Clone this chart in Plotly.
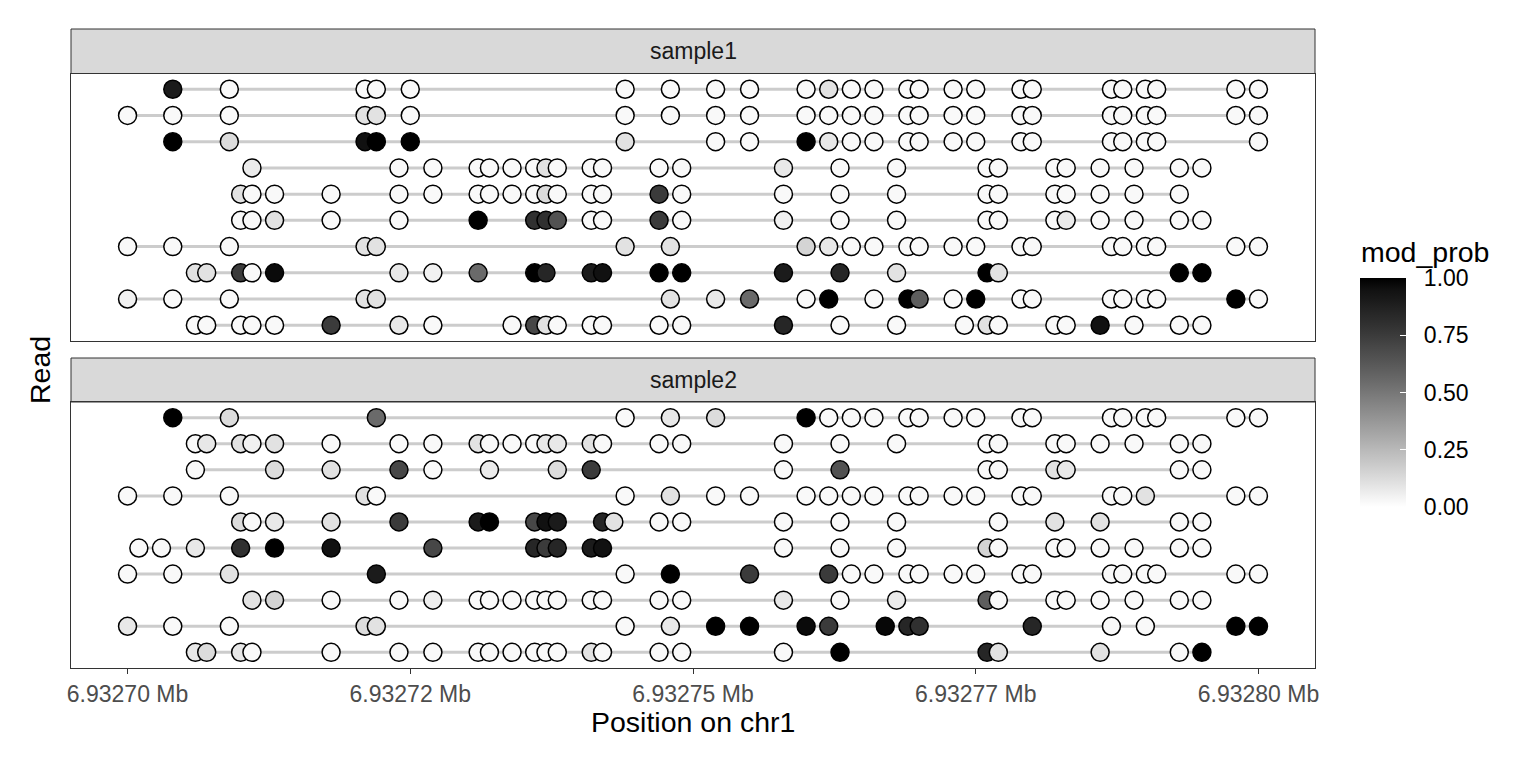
import numpy as np
import plotly.graph_objects as go

# ---------------- data ----------------
START = 6932700
TICK_OFFSETS = [0, 25, 50, 75, 100]
TICK_LABELS = ["6.93270 Mb", "6.93272 Mb", "6.93275 Mb", "6.93277 Mb", "6.93280 Mb"]
SAMPLES = ["sample1", "sample2"]
CBAR_TICKS = [0, 0.25, 0.5, 0.75, 1.0]
CBAR_LABELS = ["0.00", "0.25", "0.50", "0.75", "1.00"]

# sample1: CpG offsets (bp from START) per read, top to bottom
s1_pos = [
    [4, 9, 21, 22, 25, 44, 48, 52, 55, 60, 62, 64, 66, 69, 70, 73, 75, 79, 80, 87, 88, 90, 91, 98, 100],
    [0, 4, 9, 21, 22, 25, 44, 48, 52, 55, 60, 62, 64, 66, 69, 70, 73, 75, 79, 80, 87, 88, 90, 91, 98, 100],
    [4, 9, 21, 22, 25, 44, 52, 55, 60, 62, 64, 66, 69, 70, 73, 75, 79, 80, 87, 88, 90, 91, 100],
    [11, 24, 27, 31, 32, 34, 36, 37, 38, 41, 42, 47, 49, 58, 63, 68, 76, 77, 82, 83, 86, 89, 93, 95],
    [10, 11, 13, 18, 24, 27, 31, 32, 34, 36, 37, 38, 41, 42, 47, 49, 58, 63, 68, 76, 77, 82, 83, 86, 89, 93],
    [10, 11, 13, 18, 24, 31, 36, 37, 38, 41, 42, 47, 49, 58, 63, 68, 76, 77, 82, 83, 86, 89, 93, 95],
    [0, 4, 9, 21, 22, 44, 48, 60, 62, 64, 66, 69, 70, 73, 75, 79, 80, 87, 88, 90, 91, 98, 100],
    [6, 7, 10, 11, 13, 24, 27, 31, 36, 37, 41, 42, 47, 49, 58, 63, 68, 76, 77, 93, 95],
    [0, 4, 9, 21, 22, 48, 52, 55, 60, 62, 66, 69, 70, 73, 75, 79, 80, 87, 88, 90, 91, 98, 100],
    [6, 7, 10, 11, 13, 18, 24, 27, 34, 36, 37, 38, 41, 42, 47, 49, 58, 63, 68, 74, 76, 77, 82, 83, 86, 89, 93, 95],
]
s1_prob = [
    [0.9, 0.02, 0.02, 0.02, 0.02, 0.02, 0.02, 0.02, 0.02, 0.02, 0.1, 0.02, 0.02, 0.02, 0.02, 0.02, 0.02, 0.02, 0.02, 0.02, 0.02, 0.02, 0.02, 0.02, 0.02],
    [0.02, 0.02, 0.02, 0.1, 0.1, 0.02, 0.02, 0.02, 0.02, 0.02, 0.02, 0.02, 0.02, 0.02, 0.02, 0.02, 0.02, 0.02, 0.02, 0.02, 0.02, 0.02, 0.02, 0.02, 0.02, 0.02],
    [1.0, 0.12, 0.95, 1.0, 1.0, 0.1, 0.02, 0.02, 1.0, 0.08, 0.02, 0.02, 0.02, 0.02, 0.02, 0.02, 0.02, 0.02, 0.02, 0.02, 0.02, 0.02, 0.02],
    [0.07, 0.02, 0.02, 0.02, 0.02, 0.02, 0.02, 0.1, 0.02, 0.02, 0.02, 0.02, 0.02, 0.08, 0.02, 0.02, 0.02, 0.02, 0.02, 0.02, 0.02, 0.02, 0.02, 0.02],
    [0.1, 0.02, 0.02, 0.02, 0.02, 0.02, 0.02, 0.02, 0.02, 0.02, 0.12, 0.02, 0.02, 0.02, 0.75, 0.02, 0.02, 0.02, 0.02, 0.02, 0.02, 0.02, 0.02, 0.02, 0.02, 0.02],
    [0.02, 0.02, 0.1, 0.02, 0.02, 1.0, 0.8, 0.8, 0.65, 0.02, 0.02, 0.75, 0.02, 0.05, 0.02, 0.02, 0.02, 0.02, 0.02, 0.07, 0.02, 0.02, 0.02, 0.02],
    [0.02, 0.02, 0.02, 0.1, 0.1, 0.1, 0.1, 0.15, 0.08, 0.02, 0.02, 0.02, 0.02, 0.02, 0.02, 0.02, 0.02, 0.02, 0.02, 0.02, 0.02, 0.02, 0.02],
    [0.1, 0.1, 0.75, 0.02, 0.97, 0.08, 0.05, 0.55, 1.0, 0.85, 0.9, 0.95, 1.0, 1.0, 0.9, 0.85, 0.1, 1.0, 0.1, 1.0, 1.0],
    [0.05, 0.02, 0.02, 0.1, 0.1, 0.1, 0.08, 0.55, 0.02, 1.0, 0.02, 1.0, 0.6, 0.02, 1.0, 0.02, 0.02, 0.02, 0.02, 0.02, 0.02, 1.0, 0.02],
    [0.02, 0.02, 0.02, 0.02, 0.02, 0.75, 0.08, 0.02, 0.02, 0.7, 0.1, 0.02, 0.02, 0.02, 0.02, 0.02, 0.85, 0.02, 0.02, 0.02, 0.1, 0.02, 0.02, 0.02, 0.95, 0.02, 0.02, 0.02],
]

# sample2
s2_pos = [
    [4, 9, 22, 44, 48, 52, 60, 62, 64, 66, 69, 70, 73, 75, 79, 80, 87, 88, 90, 91, 98, 100],
    [6, 7, 10, 11, 13, 18, 24, 27, 31, 32, 34, 36, 37, 38, 41, 42, 47, 49, 58, 63, 68, 76, 77, 82, 83, 86, 89, 93, 95],
    [6, 13, 18, 24, 27, 32, 38, 41, 58, 63, 76, 77, 82, 83, 93, 95],
    [0, 4, 9, 21, 22, 44, 48, 52, 55, 60, 62, 64, 66, 69, 70, 73, 75, 79, 80, 87, 88, 90, 98, 100],
    [10, 11, 13, 18, 24, 31, 32, 36, 37, 38, 42, 43, 47, 49, 58, 63, 68, 77, 82, 86, 93, 95],
    [1, 3, 6, 10, 13, 18, 27, 36, 37, 38, 41, 42, 58, 63, 68, 76, 77, 82, 83, 86, 89, 93, 95],
    [0, 4, 9, 22, 44, 48, 55, 62, 64, 66, 69, 70, 73, 75, 79, 80, 87, 88, 90, 91, 98, 100],
    [11, 13, 18, 24, 27, 31, 32, 34, 36, 37, 38, 41, 42, 47, 49, 58, 63, 68, 76, 77, 82, 83, 86, 89, 93, 95],
    [0, 4, 9, 21, 22, 44, 48, 52, 55, 60, 62, 67, 69, 70, 80, 87, 90, 98, 100],
    [6, 7, 10, 11, 18, 24, 27, 31, 32, 34, 36, 37, 38, 41, 42, 47, 49, 58, 63, 76, 77, 86, 93, 95],
]
s2_prob = [
    [1.0, 0.12, 0.55, 0.02, 0.08, 0.12, 1.0, 0.02, 0.02, 0.02, 0.02, 0.02, 0.02, 0.02, 0.02, 0.02, 0.02, 0.02, 0.02, 0.02, 0.02, 0.02],
    [0.02, 0.08, 0.1, 0.05, 0.1, 0.02, 0.02, 0.02, 0.1, 0.02, 0.02, 0.02, 0.08, 0.08, 0.1, 0.02, 0.02, 0.02, 0.02, 0.02, 0.02, 0.02, 0.02, 0.02, 0.02, 0.02, 0.02, 0.02, 0.02],
    [0.02, 0.12, 0.1, 0.7, 0.02, 0.07, 0.12, 0.75, 0.02, 0.65, 0.02, 0.02, 0.1, 0.08, 0.02, 0.02],
    [0.02, 0.02, 0.02, 0.1, 0.02, 0.02, 0.1, 0.02, 0.02, 0.02, 0.02, 0.02, 0.02, 0.02, 0.02, 0.02, 0.02, 0.02, 0.02, 0.02, 0.02, 0.1, 0.02, 0.02],
    [0.12, 0.02, 0.08, 0.1, 0.75, 0.9, 1.0, 0.7, 0.95, 0.9, 0.85, 0.1, 0.02, 0.02, 0.02, 0.02, 0.02, 0.02, 0.1, 0.1, 0.02, 0.02],
    [0.02, 0.02, 0.08, 0.8, 1.0, 0.95, 0.7, 0.85, 0.75, 0.85, 0.9, 0.95, 0.02, 0.02, 0.02, 0.15, 0.02, 0.02, 0.02, 0.02, 0.02, 0.02, 0.02],
    [0.02, 0.02, 0.1, 0.9, 0.02, 1.0, 0.75, 0.75, 0.02, 0.02, 0.02, 0.02, 0.02, 0.02, 0.02, 0.02, 0.02, 0.02, 0.02, 0.02, 0.02, 0.02],
    [0.1, 0.15, 0.02, 0.02, 0.06, 0.02, 0.02, 0.02, 0.02, 0.02, 0.02, 0.02, 0.02, 0.02, 0.02, 0.08, 0.02, 0.07, 0.6, 0.02, 0.02, 0.02, 0.02, 0.02, 0.02, 0.02],
    [0.08, 0.02, 0.02, 0.12, 0.1, 0.02, 0.08, 1.0, 1.0, 0.97, 0.75, 0.98, 0.85, 0.8, 0.85, 0.02, 0.02, 1.0, 1.0],
    [0.08, 0.12, 0.08, 0.02, 0.02, 0.02, 0.02, 0.02, 0.02, 0.02, 0.02, 0.02, 0.02, 0.1, 0.02, 0.02, 0.02, 0.02, 1.0, 0.85, 0.1, 0.1, 0.02, 1.0],
]

for P, Q in ((s1_pos, s1_prob), (s2_pos, s2_prob)):
    for a, b in zip(P, Q):
        assert len(a) == len(b), (a, b)

# ---------------- styling ----------------
W, H = 1536, 768
FONT = "Liberation Sans, Arial, sans-serif"
SMALL = 23
BIG = 28.5

def lab_gray(t):
    L = 100.0 * (1.0 - t)
    fy = (L + 16.0) / 116.0
    Y = fy ** 3 if L > 8.0 else L / 903.3
    c = 1.055 * Y ** (1 / 2.4) - 0.055 if Y > 0.0031308 else 12.92 * Y
    v = int(round(max(0, min(1, c)) * 255))
    return f"rgb({v},{v},{v})"

colorscale = [[t, lab_gray(t)] for t in np.linspace(0, 1, 21)]

PX = lambda x: x / W
PY = lambda y: 1 - y / H

panel_x = [PX(71), PX(1315)]
panel_y = {1: [PY(341), PY(73.5)], 2: [PY(668), PY(402)]}
strip_y = {1: (29, 73.5), 2: (358, 402)}

fig = go.Figure()

for k, (pos_list, prob_list) in enumerate(((s1_pos, s1_prob), (s2_pos, s2_prob)), start=1):
    xa = "x" if k == 1 else "x2"
    ya = "y" if k == 1 else "y2"
    lx, ly = [], []
    mx, my, mc = [], [], []
    for r, (pos, prob) in enumerate(zip(pos_list, prob_list), start=1):
        xs = [START + p for p in pos]
        lx += [min(xs), max(xs), None]
        ly += [r, r, None]
        mx += xs
        my += [r] * len(xs)
        mc += prob
    fig.add_trace(go.Scatter(x=lx, y=ly, mode="lines", xaxis=xa, yaxis=ya,
                             line=dict(color="#cccccc", width=3), hoverinfo="skip",
                             showlegend=False))
    fig.add_trace(go.Scatter(x=mx, y=my, mode="markers", xaxis=xa, yaxis=ya,
                             marker=dict(size=18, color=mc, coloraxis="coloraxis",
                                         line=dict(color="black", width=1.5)),
                             showlegend=False))

xr = [START - 5, START + 105]
common_x = dict(range=xr, showgrid=False, zeroline=False, showline=True, mirror=True,
                linecolor="#333333", linewidth=1, tickvals=[START + t for t in TICK_OFFSETS],
                ticktext=TICK_LABELS, domain=panel_x, automargin=False)
common_y = dict(range=[10.6, 0.4], showgrid=False, zeroline=False, showline=True, mirror=True,
                linecolor="#333333", linewidth=1, showticklabels=False, ticks="",
                automargin=False)

shapes = []
annotations = []
for k, name in enumerate(SAMPLES, start=1):
    y0, y1 = strip_y[k]
    shapes.append(dict(type="rect", xref="paper", yref="paper", x0=PX(71), x1=PX(1315),
                       y0=PY(y1), y1=PY(y0), fillcolor="#d9d9d9",
                       line=dict(color="#333333", width=1), layer="below"))
    annotations.append(dict(text=name, xref="paper", yref="paper", x=PX(693), y=PY((y0 + y1) / 2),
                            showarrow=False, xanchor="center", yanchor="middle",
                            font=dict(family=FONT, size=SMALL, color="#1a1a1a")))

annotations.append(dict(text="Position on chr1", xref="paper", yref="paper", x=PX(693), y=PY(722),
                        showarrow=False, xanchor="center", yanchor="middle",
                        font=dict(family=FONT, size=BIG, color="black")))
annotations.append(dict(text="Read", xref="paper", yref="paper", x=PX(40), y=PY(370),
                        showarrow=False, xanchor="center", yanchor="middle", textangle=-90,
                        font=dict(family=FONT, size=BIG, color="black")))
annotations.append(dict(text="mod_prob", xref="paper", yref="paper", x=PX(1359), y=PY(252),
                        showarrow=False, xanchor="left", yanchor="middle",
                        font=dict(family=FONT, size=BIG, color="black")))

fig.update_layout(
    width=W, height=H,
    autosize=False,
    margin=dict(l=0, r=0, t=0, b=0, autoexpand=False),
    paper_bgcolor="white", plot_bgcolor="white",
    font=dict(family=FONT),
    xaxis=dict(common_x, anchor="y", showticklabels=False, ticks=""),
    xaxis2=dict(common_x, anchor="y2", matches="x", showticklabels=True, ticks="outside",
                ticklen=5, tickcolor="#333333", tickwidth=1,
                tickfont=dict(family=FONT, size=SMALL, color="#4d4d4d")),
    yaxis=dict(common_y, domain=panel_y[1], anchor="x"),
    yaxis2=dict(common_y, domain=panel_y[2], anchor="x2"),
    coloraxis=dict(
        colorscale=colorscale, cmin=0, cmax=1,
        colorbar=dict(thickness=46, thicknessmode="pixels", len=229, lenmode="pixels",
                      x=PX(1360), xanchor="left", y=PY(392.5), yanchor="middle",
                      outlinewidth=0, xpad=0, ypad=0,
                      tickvals=CBAR_TICKS,
                      ticktext=["\u00a0\u00a0" + s for s in CBAR_LABELS],
                      ticks="inside", ticklen=6, tickcolor="white", tickwidth=1,
                      tickfont=dict(family=FONT, size=SMALL, color="black"),
                      title=dict(text="")),
    ),
    shapes=shapes,
    annotations=annotations,
    showlegend=False,
)

fig.write_html("out.html")
